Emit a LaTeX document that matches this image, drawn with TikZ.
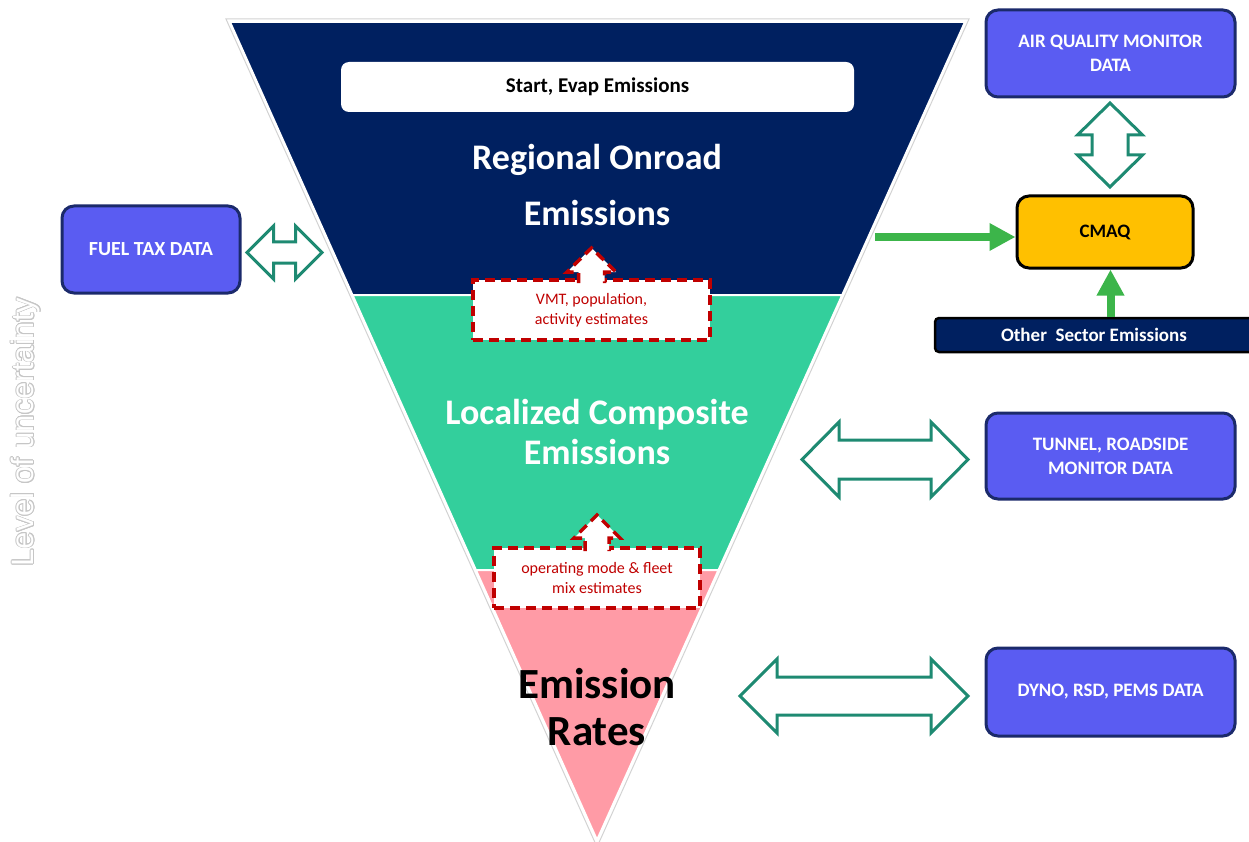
\documentclass[tikz,border=0pt]{standalone}
\usepackage{fontspec}
\setmainfont{Carlito}
\newfontfamily\arialfont{Liberation Sans}
\usepackage{contour}
\contourlength{0.7pt}
\usetikzlibrary{arrows.meta}

\definecolor{navy}{HTML}{002060}
\definecolor{mint}{HTML}{33CF9C}
\definecolor{rose}{HTML}{FF9BA6}
\definecolor{boxblue}{HTML}{5A5CF2}
\definecolor{boxedge}{HTML}{1B2A6B}
\definecolor{amber}{HTML}{FFC000}
\definecolor{leaf}{HTML}{3CB54A}
\definecolor{arrowteal}{HTML}{1E8A72}
\definecolor{dashred}{HTML}{C00000}

\tikzset{
    datbox/.style={draw=boxedge, fill=boxblue, line width=3pt, rounded corners=12pt,
        text=white, font=\bfseries\fontsize{19}{24}\selectfont, align=center},
    estbox/.style={draw=dashred, fill=white, line width=3.5pt, dash pattern=on 10pt off 6pt,
        text=dashred, font=\fontsize{16}{20}\selectfont, align=center},
    hollow/.style={draw=arrowteal, fill=white, line width=3pt, line join=miter},
    feed/.style={draw=leaf, line width=8pt, -{Triangle[length=26pt, width=26pt]}},
    layertext/.style={text=white, font=\bfseries\fontsize{36}{40}\selectfont, align=center}
}

% horizontal hollow double arrow: left x, right x, centre y, shaft half, head half, head length
\newcommand{\hollowh}[6]{
    \filldraw[hollow]
    (#1,#3) -- (#1+#6,#3-#5) -- (#1+#6,#3-#4) -- (#2-#6,#3-#4) -- (#2-#6,#3-#5)
    -- (#2,#3) -- (#2-#6,#3+#5) -- (#2-#6,#3+#4) -- (#1+#6,#3+#4) -- (#1+#6,#3+#5) -- cycle;
}
% vertical hollow double arrow: top y, bottom y, centre x, shaft half, head half, head length
\newcommand{\hollowv}[6]{
    \filldraw[hollow]
    (#3,#1) -- (#3+#5,#1+#6) -- (#3+#4,#1+#6) -- (#3+#4,#2-#6) -- (#3+#5,#2-#6)
    -- (#3,#2) -- (#3-#5,#2-#6) -- (#3-#4,#2-#6) -- (#3-#4,#1+#6) -- (#3-#5,#1+#6) -- cycle;
}

\begin{document}
\begin{tikzpicture}[x=1pt, y=-1pt]
    \useasboundingbox (0,0) rectangle (1249,842);

    \draw[gray!35, line width=1pt]
    (226,19) -- (969,19) -- (597,847) -- cycle;

    \filldraw[draw=white, line width=2pt, fill=navy]
    (230,22) -- (965,22) -- (842.2,295) -- (352.5,295) -- cycle;
    \filldraw[draw=white, line width=2pt, fill=mint]
    (352.5,295) -- (842.2,295) -- (718.5,570) -- (475.9,570) -- cycle;
    \filldraw[draw=white, line width=2pt, fill=rose]
    (475.9,570) -- (718.5,570) -- (597,840) -- cycle;

    \node(start)[fill=white, rounded corners=8pt, minimum width=513, minimum height=50,
        font=\bfseries\fontsize{21}{24}\selectfont] at (597.5,87) {Start, Evap Emissions};

    \node(regional)[layertext, font=\bfseries\fontsize{36}{56}\selectfont] at (597,185)
        {Regional Onroad\\Emissions};
    \node(localized)[layertext] at (597,432) {Localized Composite\\Emissions};
    \node(rates)[layertext, text=black, font=\bfseries\fontsize{43}{47}\selectfont] at (597,707)
        {Emission\\Rates};

    \node(vmt)[estbox, minimum width=237, minimum height=60] at (591.5,310)
        {VMT, population,\\activity estimates};
    \filldraw[estbox]
    (578.5,283) -- (578.5,272) -- (567,272) -- (591.5,248) -- (616,272) -- (604.5,272) -- (604.5,283);

    \node(opmode)[estbox, minimum width=206, minimum height=60] at (597,578)
        {operating mode \& fleet\\mix estimates};
    \filldraw[estbox]
    (585,551) -- (585,538) -- (574,538) -- (597,515) -- (620,538) -- (609,538) -- (609,551);

    \node(fuel)[datbox, minimum width=178, minimum height=87,
        font=\bfseries\fontsize{20}{24}\selectfont] at (151,249.5) {FUEL TAX DATA};
    \node(aqm)[datbox, minimum width=249, minimum height=87] at (1110.5,53.5)
        {AIR QUALITY MONITOR\\DATA};
    \node(tunnel)[datbox, minimum width=249, minimum height=86] at (1110.5,456)
        {TUNNEL, ROADSIDE\\MONITOR DATA};
    \node(dyno)[datbox, minimum width=249, minimum height=88] at (1110.5,692)
        {DYNO, RSD, PEMS DATA};

    \node(cmaq)[draw=black, fill=amber, line width=3pt, rounded corners=12pt,
        minimum width=176, minimum height=72, font=\bfseries\fontsize{19}{24}\selectfont]
        at (1105,232) {CMAQ};
    \node(other)[draw=black, fill=navy, line width=2.5pt, rounded corners=4pt, text=white,
        minimum width=318, minimum height=34, font=\bfseries\fontsize{19}{24}\selectfont]
        at (1094,335) {Other\ \ Sector Emissions};

    \coordinate(regout) at (875,237);
    \draw[feed] (regout) -- (regout -| cmaq.west);
    \draw[feed] (other.north -| aqm) -- (cmaq.south -| aqm);

    \hollowh{247}{322}{252.5}{10.5}{26.5}{26.5}
    \hollowh{802}{968}{459.5}{19.5}{37.5}{37}
    \hollowh{740}{968}{696}{19}{37}{37}
    \hollowv{103}{187}{1110}{18}{32.5}{32}

    \node(uncert)[rotate=90, text=white, font=\arialfont\fontsize{31}{31}\selectfont]
        at (26,432) {\contour{gray!45}{Level of uncertainty}};

  \end{tikzpicture}
\end{document}
